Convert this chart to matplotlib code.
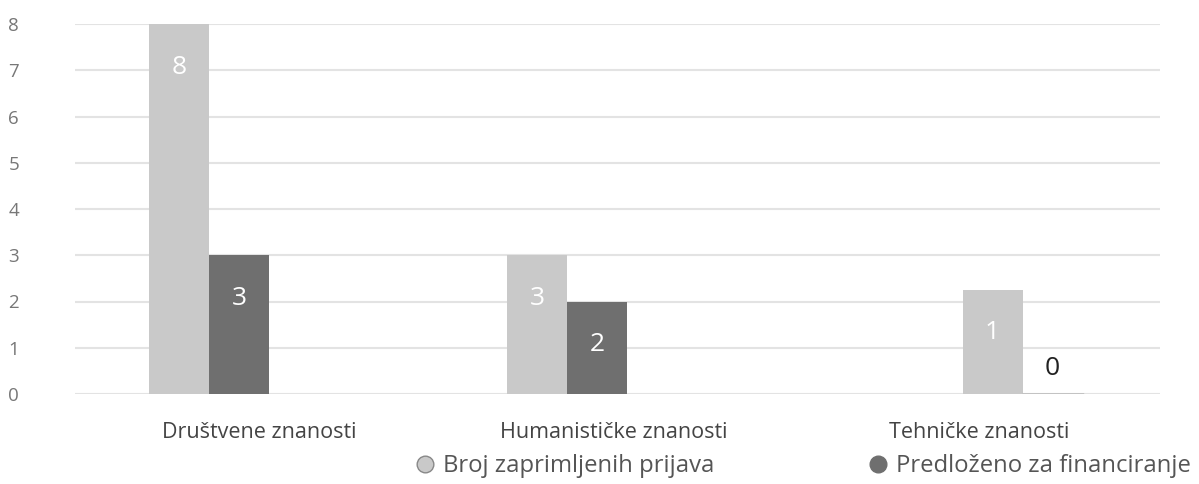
import matplotlib.pyplot as plt
from matplotlib.lines import Line2D
from matplotlib.transforms import blended_transform_factory

plt.rcParams['font.family'] = ['Open Sans', 'DejaVu Sans']

categories = ['Društvene znanosti', 'Humanističke znanosti', 'Tehničke znanosti']
series_names = ['Broj zaprimljenih prijava', 'Predloženo za financiranje']
# bar heights as they appear in the picture, and the printed labels
received = [8, 3, 2.25]
received_labels = ['8', '3', '1']
proposed = [3, 2, 0]
proposed_labels = ['3', '2', '0']

# layout
group_pos = [0.37, 1.36, 2.62]
label_pos = [0.51, 1.49, 2.5]
bar_w = 0.166
light = '#c9c9c9'
dark = '#6f6f6f'

fig = plt.figure(figsize=(11.99, 4.84), dpi=100)
ax = fig.add_axes([75 / 1199, 1 - 394 / 484, 1085 / 1199, 370 / 484])

for i in range(len(categories)):
    x1 = group_pos[i] - bar_w / 2
    x2 = group_pos[i] + bar_w / 2
    ax.bar(x1, received[i], bar_w, color=light, zorder=2)
    ax.bar(x2, proposed[i], bar_w, color=dark, zorder=2)
    ax.text(x1, received[i] - 0.93, received_labels[i], ha='center', va='center',
            color='white', fontsize=19, zorder=3)
    if proposed[i] > 0:
        ax.text(x2, proposed[i] - 0.93, proposed_labels[i], ha='center', va='center',
                color='white', fontsize=19, zorder=3)
    else:
        ax.plot([x2 - bar_w / 2, x2 + bar_w / 2], [0.01, 0.01], color='#444444', lw=1, zorder=3)
        ax.text(x2, 0.55, proposed_labels[i], ha='center', va='center',
                color='#222222', fontsize=19, zorder=3)

ax.set_xlim(0, 3)
ax.set_ylim(0, 8)
ax.set_yticks(range(9))
ax.set_xticks([])
ax.yaxis.grid(True, color='#e3e3e3', lw=1.5, zorder=0)
ax.tick_params(axis='y', length=0, pad=48, labelsize=13.5, labelcolor='#777777')
for lab in ax.get_yticklabels():
    lab.set_horizontalalignment('left')
for s in ax.spines.values():
    s.set_visible(False)

trans = blended_transform_factory(ax.transData, ax.transAxes)
for i, c in enumerate(categories):
    ax.text(label_pos[i], -0.105, c, transform=trans, ha='center', va='center',
            fontsize=15.5, color='#444444')

handles = [Line2D([], [], marker='o', ls='', color=light, markeredgecolor='#888888', markersize=12),
           Line2D([], [], marker='o', ls='', color=dark, markersize=12)]
fig.legend(handles, series_names, loc='center left', bbox_to_anchor=(414 / 1199, 1 - 466 / 484),
           ncol=2, frameon=False, fontsize=17.2, labelcolor='#555555',
           handletextpad=0.3, columnspacing=6.4, handlelength=0.9, borderaxespad=0, borderpad=0)

fig.savefig('out.png', dpi=100)
